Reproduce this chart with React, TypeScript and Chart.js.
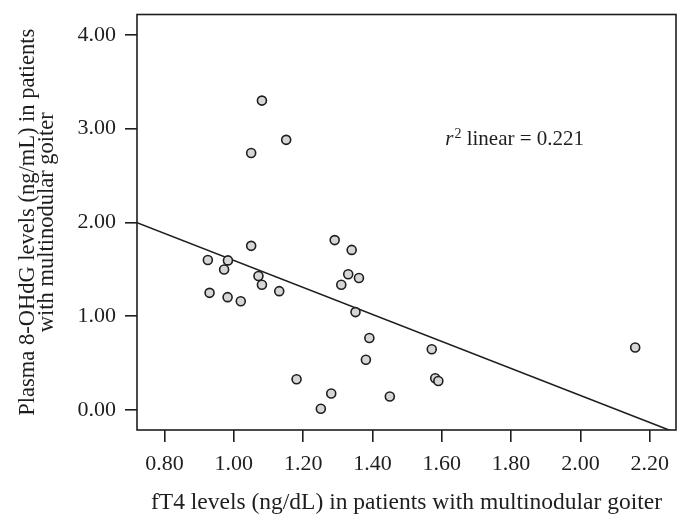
import React, { useEffect, useRef } from 'react';
import { Chart, registerables } from 'chart.js';

Chart.register(...registerables);

// fT4 (ng/dL) per patient
const fT4Values = [
  1.081, 1.151, 1.05, 1.05, 1.291, 1.34, 0.925, 0.983, 0.972, 1.071,
  1.081, 0.93, 0.982, 1.02, 1.131, 1.33, 1.361, 1.31, 1.351, 1.391,
  1.381, 1.181, 1.281, 1.251, 1.45, 1.571, 1.581, 1.59, 2.158,
];
// Plasma 8-OHdG (ng/mL) per patient
const ohdgValues = [
  3.298, 2.88, 2.74, 1.75, 1.811, 1.707, 1.599, 1.595, 1.498, 1.429,
  1.336, 1.249, 1.203, 1.159, 1.267, 1.447, 1.408, 1.336, 1.044, 0.767,
  0.536, 0.328, 0.176, 0.014, 0.144, 0.648, 0.338, 0.31, 0.666,
];

const fitIntercept = 3.035;
const fitSlope = -1.44;
const rSquaredText = '0.221';

const xTickValues = [0.8, 1.0, 1.2, 1.4, 1.6, 1.8, 2.0, 2.2];
const yTickValues = [0, 1, 2, 3, 4];
const xRange = [0.7206, 2.2757];
const yRange = [-0.213, 4.216];

const xTitle = 'fT4 levels (ng/dL) in patients with multinodular goiter';
const yTitle = ['Plasma 8-OHdG levels (ng/mL) in patients', 'with multinodular goiter'];

const FONT = '"Liberation Serif", "Times New Roman", serif';
const INK = '#1e1e1e';

export default function App() {
  const ref = useRef<HTMLCanvasElement | null>(null);

  useEffect(() => {
    const canvas = ref.current;
    if (!canvas) return;

    const points = fT4Values.map((x, i) => ({ x, y: ohdgValues[i] }));
    const fitLine = xRange.map((x) => ({ x, y: fitIntercept + fitSlope * x }));

    const framePlugin = {
      id: 'frame',
      beforeDatasetsDraw(chart: any) {
        const { ctx, chartArea } = chart;
        ctx.save();
        ctx.strokeStyle = INK;
        ctx.lineWidth = 1.6;
        ctx.strokeRect(chartArea.left, chartArea.top, chartArea.right - chartArea.left, chartArea.bottom - chartArea.top);
        ctx.restore();
      },
      afterDatasetsDraw(chart: any) {
        const { ctx, scales } = chart;
        const x = scales.x.getPixelForValue(1.61);
        const y = scales.y.getPixelForValue(2.82);
        ctx.save();
        ctx.fillStyle = INK;
        ctx.textBaseline = 'alphabetic';
        ctx.textAlign = 'left';
        ctx.font = `italic 21px ${FONT}`;
        ctx.fillText('r', x, y);
        let w = ctx.measureText('r').width + 1;
        ctx.font = `14px ${FONT}`;
        ctx.fillText('2', x + w, y - 7);
        w += ctx.measureText('2').width;
        ctx.font = `21px ${FONT}`;
        ctx.fillText(' linear = ' + rSquaredText, x + w, y);
        ctx.restore();
      },
    };

    const chart = new Chart(canvas, {
      type: 'scatter',
      data: {
        datasets: [
          {
            type: 'scatter',
            data: points,
            pointRadius: 4.5,
            pointHoverRadius: 4.5,
            pointBorderWidth: 1.6,
            pointBackgroundColor: '#d6d6d6',
            pointBorderColor: INK,
          } as any,
          {
            type: 'line',
            data: fitLine,
            borderColor: INK,
            borderWidth: 1.6,
            pointRadius: 0,
            fill: false,
            tension: 0,
          } as any,
        ],
      },
      options: {
        animation: false,
        responsive: false,
        events: [],
        layout: { padding: { top: 14, right: 14, left: 0, bottom: 0 } },
        plugins: { legend: { display: false }, tooltip: { enabled: false } },
        scales: {
          x: {
            type: 'linear',
            min: xRange[0],
            max: xRange[1],
            afterBuildTicks: (s: any) => { s.ticks = xTickValues.map((v) => ({ value: v })); },
            afterFit: (s: any) => { s.height = 99; },
            border: { display: false },
            grid: { drawOnChartArea: false, drawTicks: true, tickLength: 12, color: INK, lineWidth: 1.6 },
            ticks: {
              color: INK,
              padding: 9,
              autoSkip: false,
              maxRotation: 0,
              font: { family: FONT, size: 22 },
              callback: (v: any) => Number(v).toFixed(2),
            },
            title: {
              display: true,
              text: xTitle,
              color: INK,
              font: { family: FONT, size: 23.5, lineHeight: 1.2 },
              padding: { top: 0, bottom: 12 },
            },
          },
          y: {
            type: 'linear',
            min: yRange[0],
            max: yRange[1],
            afterBuildTicks: (s: any) => { s.ticks = yTickValues.map((v) => ({ value: v })); },
            afterFit: (s: any) => { s.width = 137; },
            border: { display: false },
            grid: { drawOnChartArea: false, drawTicks: true, tickLength: 12, color: INK, lineWidth: 1.6 },
            ticks: {
              color: INK,
              padding: 9,
              autoSkip: false,
              font: { family: FONT, size: 22, lineHeight: 0.5 },
              callback: (v: any) => Number(v).toFixed(2),
            },
            title: {
              display: true,
              text: yTitle,
              color: INK,
              font: { family: FONT, size: 22.5, lineHeight: 0.85 },
              padding: { top: 18.5, bottom: 0 },
            },
          },
        },
      },
      plugins: [framePlugin],
    });

    return () => chart.destroy();
  }, []);

  return (
    <div style={{ position: 'fixed', left: 0, top: 0, width: 690, height: 529, background: '#fff' }}>
      <canvas ref={ref} width={690} height={529} style={{ display: 'block', width: 690, height: 529 }} />
    </div>
  );
}
